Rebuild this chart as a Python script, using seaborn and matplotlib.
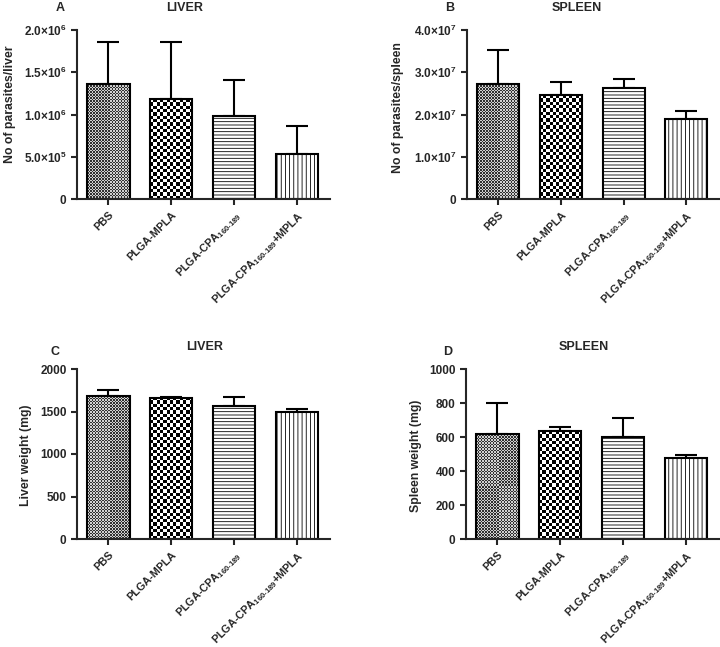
import numpy as np
import pandas as pd
import matplotlib
matplotlib.use('Agg')
import matplotlib.pyplot as plt
import seaborn as sns
from matplotlib.ticker import FuncFormatter

groups = ['PBS', 'PLGA-MPLA', 'PLGA-CPA$_{160\u2010189}$', 'PLGA-CPA$_{160\u2010189}$+MPLA']

# panel A: parasites per liver
liver_par = [1.36e6, 1.18e6, 0.98e6, 0.53e6]
liver_par_err = [0.50e6, 0.68e6, 0.43e6, 0.33e6]
# panel B: parasites per spleen
spleen_par = [2.72e7, 2.46e7, 2.63e7, 1.89e7]
spleen_par_err = [0.81e7, 0.31e7, 0.21e7, 0.19e7]
# panel C: liver weight (mg)
liver_wt = [1682, 1662, 1565, 1494]
liver_wt_err = [75, 8, 105, 35]
# panel D: spleen weight (mg)
spleen_wt = [618, 635, 600, 476]
spleen_wt_err = [182, 22, 112, 18]

sns.set_style('ticks')
plt.rcParams['font.family'] = ['Liberation Sans', 'DejaVu Sans']
plt.rcParams['font.weight'] = 'bold'
plt.rcParams['mathtext.fontset'] = 'custom'
plt.rcParams['mathtext.rm'] = 'Liberation Sans:bold'
plt.rcParams['mathtext.bf'] = 'Liberation Sans:bold'
plt.rcParams['mathtext.default'] = 'bf'
plt.rcParams['hatch.linewidth'] = 0.6
plt.rcParams['hatch.color'] = '#777777'


def sci_fmt(v, pos):
    if v == 0:
        return '0'
    e = int(np.floor(np.log10(abs(v))))
    m = v / 10 ** e
    return f'{m:.1f}$\\times$10$^{{{e}}}$'


def checker(ax, patch, cell, light, dark):
    # fill a bar with a checkerboard texture clipped to its outline
    x0, y0 = patch.get_x(), patch.get_y()
    w, h = patch.get_width(), patch.get_height()
    p0 = ax.transData.transform((x0, y0))
    p1 = ax.transData.transform((x0 + w, y0 + h))
    nx = max(1, int(round(abs(p1[0] - p0[0]) / cell)))
    ny = max(1, int(round(abs(p1[1] - p0[1]) / cell)))
    arr = np.add.outer(np.arange(ny), np.arange(nx)) % 2
    im = ax.imshow(arr, cmap=matplotlib.colors.ListedColormap([light, dark]),
                   extent=[x0, x0 + w, y0, y0 + h], aspect='auto',
                   interpolation='nearest', zorder=patch.get_zorder() - 0.5)
    im.set_clip_path(patch)
    patch.set_facecolor('none')


def draw_panel(ax, vals, errs, ymax, step, ylabel, lab_xy, sci=False):
    df = pd.DataFrame({'group': groups, 'val': vals})
    sns.barplot(data=df, x='group', y='val', hue='group', palette=['white'] * 4,
                edgecolor='black', linewidth=1.5, width=0.67, legend=False,
                ax=ax, zorder=2)
    ax.errorbar(np.arange(4), vals, yerr=[np.zeros(4), errs], fmt='none',
                ecolor='black', elinewidth=1.5, capsize=8, capthick=1.5, zorder=1)
    ax.set_xlim(-0.5, 3.52)
    ax.set_ylim(0, ymax)
    ax.set_yticks(np.arange(0, ymax + step / 2, step))
    if sci:
        ax.yaxis.set_major_formatter(FuncFormatter(sci_fmt))
    ax.set_xlabel('')
    ax.set_ylabel(ylabel, fontsize=8.8, fontweight='bold')
    ax.yaxis.set_label_coords(*lab_xy)
    ax.set_xticks(range(4))
    ax.set_xticklabels(groups, rotation=45, ha='right', rotation_mode='anchor',
                       fontsize=7.8, fontweight='bold')
    ax.tick_params(axis='y', labelsize=8.5, width=1.5, length=4)
    ax.tick_params(axis='x', width=1.5, length=4)
    for s in ['left', 'bottom']:
        ax.spines[s].set_linewidth(1.5)
    sns.despine(ax=ax)
    bars = ax.patches[:4]
    checker(ax, bars[0], 1.5, '#d0d0d0', '#303030')
    checker(ax, bars[1], 3.3, 'white', 'black')
    bars[2].set_hatch('-----')
    bars[3].set_hatch('||||')
    for b in bars[2:]:
        if hasattr(b, 'set_hatchcolor'):
            b.set_hatchcolor('#777777')


fig = plt.figure(figsize=(7.2, 6.47), dpi=100)
axA = fig.add_axes([77 / 720, 1 - 199 / 647, 253 / 720, 169 / 647])
axB = fig.add_axes([467 / 720, 1 - 199 / 647, 252 / 720, 169 / 647])
axC = fig.add_axes([77 / 720, 1 - 539 / 647, 253 / 720, 170 / 647])
axD = fig.add_axes([466 / 720, 1 - 539 / 647, 253 / 720, 170 / 647])

draw_panel(axA, liver_par, liver_par_err, 2.0e6, 0.5e6, 'No of parasites/liver',
           (-0.242, 0.56), sci=True)
draw_panel(axB, spleen_par, spleen_par_err, 4.0e7, 1.0e7, 'No of parasites/spleen',
           (-0.25, 0.54), sci=True)
draw_panel(axC, liver_wt, liver_wt_err, 2000, 500, 'Liver weight (mg)', (-0.178, 0.49))
draw_panel(axD, spleen_wt, spleen_wt_err, 1000, 200, 'Spleen weight (mg)', (-0.174, 0.49))

tkw = dict(fontsize=9, fontweight='bold', ha='center', va='center')
fig.text(60 / 720, 1 - 8 / 647, 'A', **tkw)
fig.text(185 / 720, 1 - 8 / 647, 'LIVER', **tkw)
fig.text(450 / 720, 1 - 8 / 647, 'B', **tkw)
fig.text(577 / 720, 1 - 8 / 647, 'SPLEEN', **tkw)
fig.text(55 / 720, 1 - 352 / 647, 'C', **tkw)
fig.text(205 / 720, 1 - 347 / 647, 'LIVER', **tkw)
fig.text(448 / 720, 1 - 352 / 647, 'D', **tkw)
fig.text(584 / 720, 1 - 347 / 647, 'SPLEEN', **tkw)

fig.savefig('out.png', dpi=100, facecolor='white')
